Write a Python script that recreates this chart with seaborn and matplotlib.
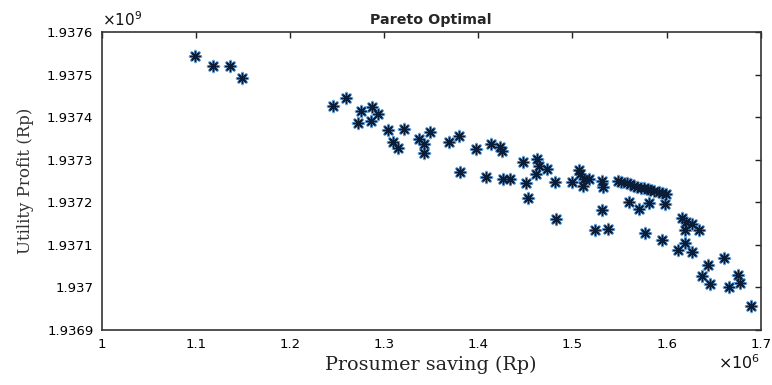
import matplotlib
matplotlib.use("Agg")
import matplotlib.pyplot as plt
import seaborn as sns
import pandas as pd

# Prosumer saving (x 1e6 Rp)
prosumer_saving = [
    1.0995, 1.118, 1.136, 1.149,
    1.246, 1.260, 1.272, 1.2755, 1.2856, 1.287, 1.294, 1.304, 1.321, 1.309, 1.315,
    1.337, 1.342, 1.342, 1.349, 1.369, 1.380, 1.381, 1.398, 1.413, 1.423, 1.425,
    1.408, 1.426, 1.4335, 1.447, 1.4505, 1.4625, 1.465, 1.473, 1.461, 1.453,
    1.482, 1.483, 1.500, 1.5065, 1.508, 1.5125, 1.518, 1.511, 1.531, 1.532,
    1.531, 1.524, 1.538, 1.548, 1.558, 1.5655, 1.573, 1.580, 1.587, 1.599,
    1.552, 1.561, 1.569, 1.576, 1.5825, 1.592, 1.595,
    1.560, 1.571, 1.581, 1.598, 1.577, 1.5955, 1.616, 1.621, 1.6265, 1.634,
    1.620, 1.620, 1.612, 1.627, 1.644, 1.661, 1.638, 1.646, 1.666, 1.676,
    1.678, 1.690,
]
# Utility profit (x 1e9 Rp)
utility_profit = [
    1.937544, 1.937521, 1.937521, 1.937493,
    1.937427, 1.937445, 1.937386, 1.937416, 1.937392, 1.937424, 1.937407, 1.937371, 1.937372, 1.937343, 1.937329,
    1.937349, 1.937338, 1.937317, 1.937365, 1.937342, 1.937357, 1.937272, 1.937326, 1.937338, 1.937331, 1.937320,
    1.937260, 1.937256, 1.937254, 1.937296, 1.937246, 1.937302, 1.937286, 1.937278, 1.937266, 1.937210,
    1.937248, 1.937162, 1.937249, 1.937276, 1.937266, 1.937255, 1.937256, 1.937239, 1.937251, 1.937237,
    1.937182, 1.937134, 1.937137, 1.937251, 1.937246, 1.937238, 1.937235, 1.937232, 1.937227, 1.937219,
    1.937249, 1.937244, 1.937237, 1.937233, 1.937230, 1.937224, 1.937221,
    1.937201, 1.937185, 1.937198, 1.937197, 1.937128, 1.937112, 1.937163, 1.937155, 1.937149, 1.937135,
    1.937136, 1.937104, 1.937087, 1.937083, 1.937053, 1.937069, 1.937028, 1.937008, 1.937000, 1.937029,
    1.937010, 1.936956,
]
x_ticks = [1.0, 1.1, 1.2, 1.3, 1.4, 1.5, 1.6, 1.7]
x_tick_labels = ["1", "1.1", "1.2", "1.3", "1.4", "1.5", "1.6", "1.7"]
y_ticks = [1.9369, 1.9370, 1.9371, 1.9372, 1.9373, 1.9374, 1.9375, 1.9376]
y_tick_labels = ["1.9369", "1.937", "1.9371", "1.9372", "1.9373", "1.9374", "1.9375", "1.9376"]

df = pd.DataFrame({"saving": prosumer_saving, "profit": utility_profit})

sns.set_style("white")
plt.rcParams["font.family"] = ["DejaVu Sans"]

fig = plt.figure(figsize=(7.72, 3.85), dpi=100)
ax = fig.add_axes([0.1317, 0.1429, 0.8537, 0.7732])

asterisk = (8, 2, 0)
sns.scatterplot(data=df, x="saving", y="profit", ax=ax, marker=asterisk,
                s=60, color="#6fa6dc", linewidth=2.0, edgecolor="#6fa6dc", zorder=2)
sns.scatterplot(data=df, x="saving", y="profit", ax=ax, marker=asterisk,
                s=50, color="#0a1c36", linewidth=1.0, edgecolor="#0a1c36", zorder=3)

ax.set_xlim(1.0, 1.7)
ax.set_ylim(1.9369, 1.9376)
ax.set_xticks(x_ticks)
ax.set_xticklabels(x_tick_labels)
ax.set_yticks(y_ticks)
ax.set_yticklabels(y_tick_labels)

ax.tick_params(direction="in", length=4, width=1, top=True, right=True,
               labelsize=9.5, colors="#222222", pad=6)
for lbl in ax.get_xticklabels() + ax.get_yticklabels():
    lbl.set_color("#000000")
    lbl.set_fontweight("medium")
for sp in ax.spines.values():
    sp.set_visible(True)
    sp.set_color("#333333")
    sp.set_linewidth(1.2)

ax.set_xlabel("Prosumer saving (Rp)", family="DejaVu Serif", fontsize=13.8,
              color="#222222", labelpad=3)
ax.set_ylabel("Utility Profit (Rp)", family="DejaVu Serif", fontsize=12,
              color="#333333", labelpad=9)
ax.set_title("Pareto Optimal", fontsize=10.3, fontweight="bold", pad=6)

ax.text(0.0, 1.012, r"$\times10^{9}$", transform=ax.transAxes, fontsize=11,
        ha="left", va="bottom", color="#111111")
ax.text(1.0, -0.08, r"$\times10^{6}$", transform=ax.transAxes, fontsize=11.5,
        ha="right", va="top", color="#111111")

fig.savefig("out.png", dpi=100)
